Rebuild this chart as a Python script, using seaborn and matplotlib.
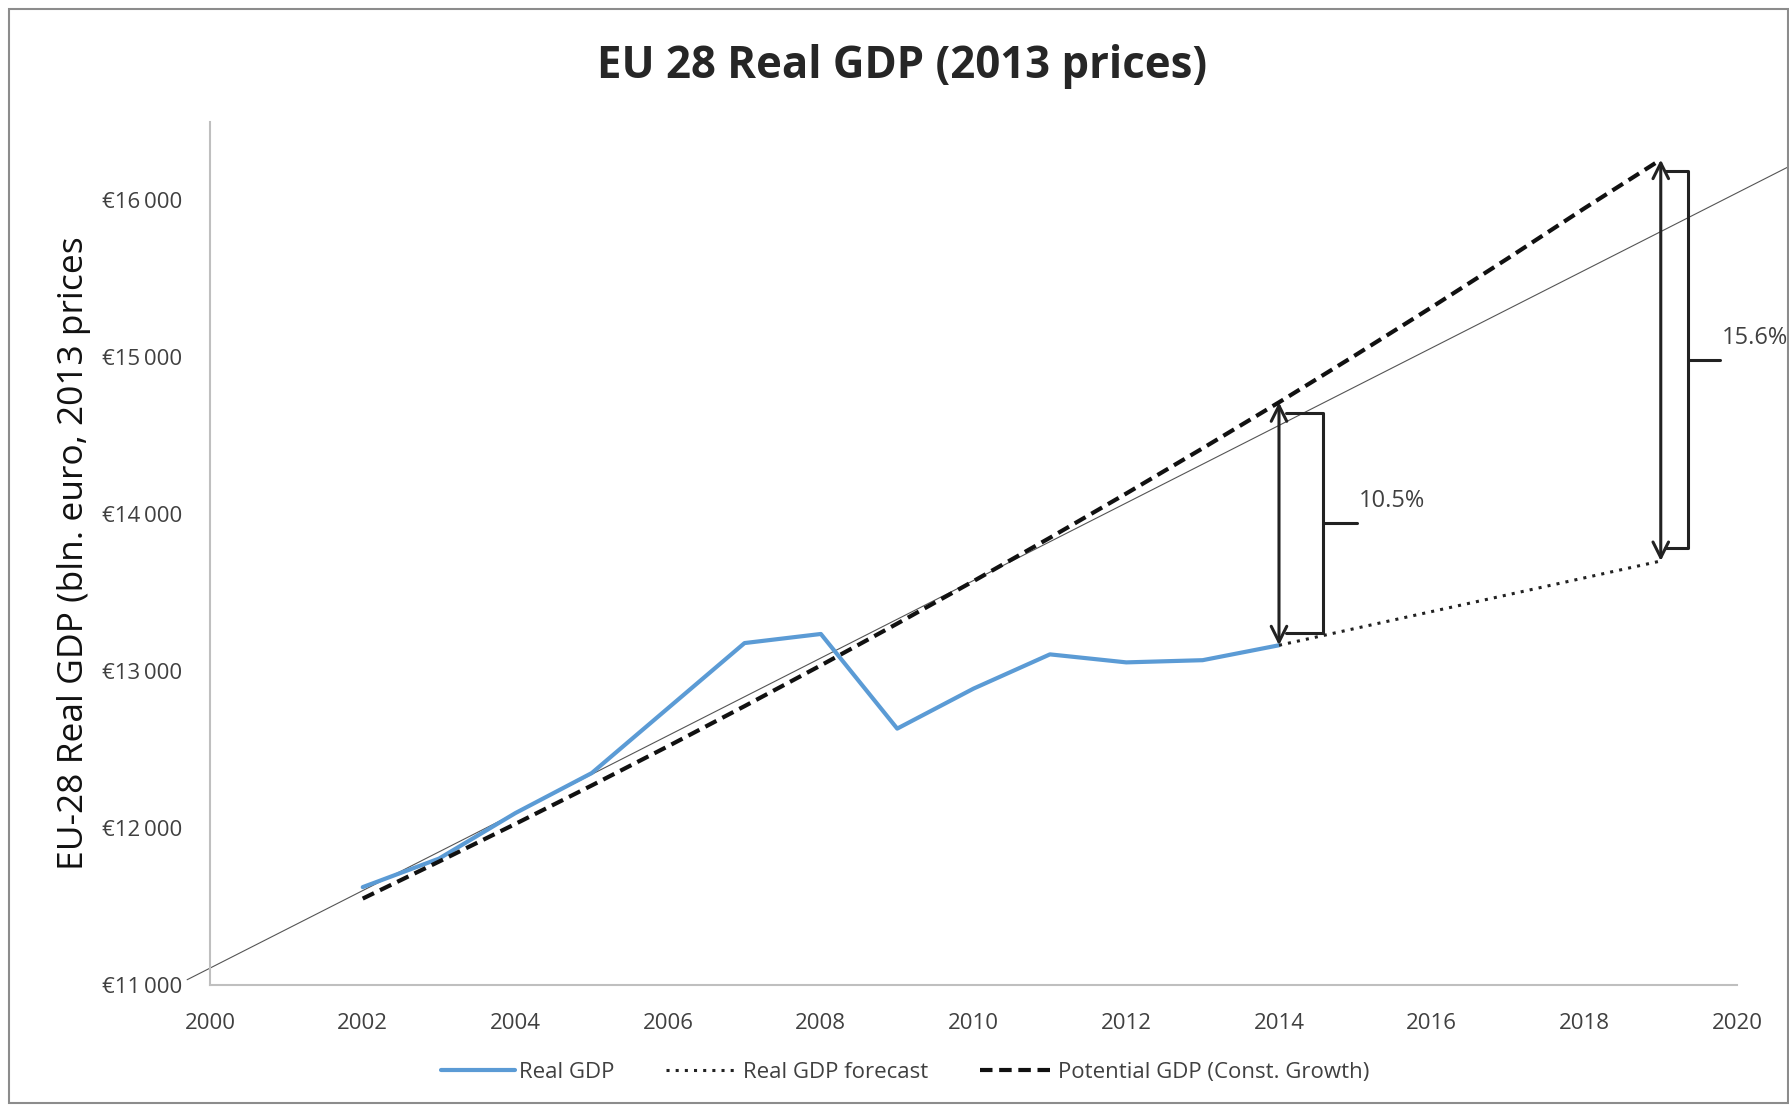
import pandas as pd
import matplotlib.pyplot as plt
import matplotlib.font_manager as fm
import seaborn as sns
from matplotlib.patches import Rectangle
from matplotlib.ticker import FuncFormatter

# Values (bln. euro, 2013 prices)
years = list(range(2002, 2015))
real_gdp = [11625, 11807, 12097, 12352, 12766, 13180, 13238,
            12635, 12890, 13108, 13057, 13071, 13166]

forecast_years = [2014, 2019]
forecast_gdp = [13166, 13703]

potential_years = list(range(2002, 2020))
potential_gdp = [11552, 11788, 12028, 12273, 12523, 12778, 13038, 13304, 13575,
                 13851, 14133, 14421, 14714, 15014, 15320, 15632, 15950, 16260]

# thin linear trend line, runs past the axes
trend_years = [1999.7, 2021.2]
trend_gdp = [11035, 16345]

gap_years = [2014, 2019]
gap_labels = ['10.5%', '15.6%']

x_ticks = list(range(2000, 2021, 2))
y_ticks = [11000, 12000, 13000, 14000, 15000, 16000]

sns.set_theme(style="white")
names = {f.name for f in fm.fontManager.ttflist}
narrow = 'Liberation Sans Narrow' if 'Liberation Sans Narrow' in names else 'Open Sans'
plt.rcParams['font.family'] = [narrow, 'DejaVu Sans']

fig, ax = plt.subplots(figsize=(17.89, 11.07), dpi=100)
fig.subplots_adjust(left=0.1174, right=0.971, bottom=0.110, top=0.8898)

real_df = pd.DataFrame({'year': years, 'gdp': real_gdp})
fc_df = pd.DataFrame({'year': forecast_years, 'gdp': forecast_gdp})
pot_df = pd.DataFrame({'year': potential_years, 'gdp': potential_gdp})

ax.plot(trend_years, trend_gdp, color='#555555', lw=0.8, clip_on=False, zorder=1)
sns.lineplot(data=real_df, x='year', y='gdp', ax=ax, color='#5B9BD5', lw=3,
             label='Real GDP', zorder=3)
sns.lineplot(data=fc_df, x='year', y='gdp', ax=ax, color='#222222', lw=2.2,
             linestyle=(0, (1, 2)), label='Real GDP forecast', zorder=3)
sns.lineplot(data=pot_df, x='year', y='gdp', ax=ax, color='#111111', lw=3,
             linestyle=(0, (3, 1.6)), label='Potential GDP (Const. Growth)',
             zorder=4, clip_on=False)

# gap arrows and brackets
pot = dict(zip(potential_years, potential_gdp))
act = {2014: real_gdp[-1], 2019: forecast_gdp[-1]}
widths = {2014: (0.09, 0.57, 1.02), 2019: (0.05, 0.36, 0.78)}
for yr, lab in zip(gap_years, gap_labels):
    top, bot = pot[yr], act[yr]
    ax.annotate('', xy=(yr, bot), xytext=(yr, top),
                arrowprops=dict(arrowstyle='<->', lw=2.2, color='#222222',
                                mutation_scale=28, shrinkA=0, shrinkB=0))
    x0, x1, x2 = (yr + w for w in widths[yr])
    b_top, b_bot = top - 70, bot + 80
    mid = (b_top + b_bot) / 2
    ax.plot([x0, x1, x1, x0], [b_top, b_top, b_bot, b_bot], color='#222222', lw=2.2)
    ax.plot([x1, x2], [mid, mid], color='#222222', lw=2.2)
    ax.text(x2 + 0.02, mid + 140, lab, fontsize=17, color='#404040',
            family=['Open Sans', 'DejaVu Sans'], ha='left', va='center', clip_on=False)

ax.set_xlim(2000, 2020)
ax.set_ylim(11000, 16500)
ax.set_xticks(x_ticks)
ax.set_yticks(y_ticks)
ax.yaxis.set_major_formatter(FuncFormatter(lambda v, p: '€' + f'{int(v):,}'.replace(',', '\u2009')))
ax.tick_params(axis='both', colors='#404040', labelsize=16, direction='out',
               length=6, width=1.2, color='#BFBFBF')
ax.tick_params(axis='x', pad=14)
ax.tick_params(axis='y', pad=14)
for s in ['top', 'right']:
    ax.spines[s].set_visible(False)
for s in ['left', 'bottom']:
    ax.spines[s].set_color('#BFBFBF')
    ax.spines[s].set_linewidth(1.5)
ax.set_xlabel('')
ax.set_ylabel('EU-28 Real GDP (bln. euro, 2013 prices', fontsize=25.5,
              family=['Open Sans', 'DejaVu Sans'], color='#111111')
ax.yaxis.set_label_coords(-0.078, 0.50)

ax.get_legend().remove()
h, l = ax.get_legend_handles_labels()
fig.legend(h, l, loc='center', bbox_to_anchor=(0.506, 0.031), ncol=3,
           frameon=False, fontsize=16, handlelength=3.3, columnspacing=2.3,
           handletextpad=0.2, labelcolor='#404040')

fig.text(0.504, 0.940, 'EU 28 Real GDP (2013 prices)', ha='center', va='center',
         fontsize=31.5, fontweight='bold', family=['Open Sans', 'DejaVu Sans'])

fig.patches.append(Rectangle((0.005, 0.004), 0.9945, 0.988, transform=fig.transFigure,
                             fill=False, edgecolor='#8C8C8C', lw=1.5))

fig.savefig('out.png', dpi=100)
